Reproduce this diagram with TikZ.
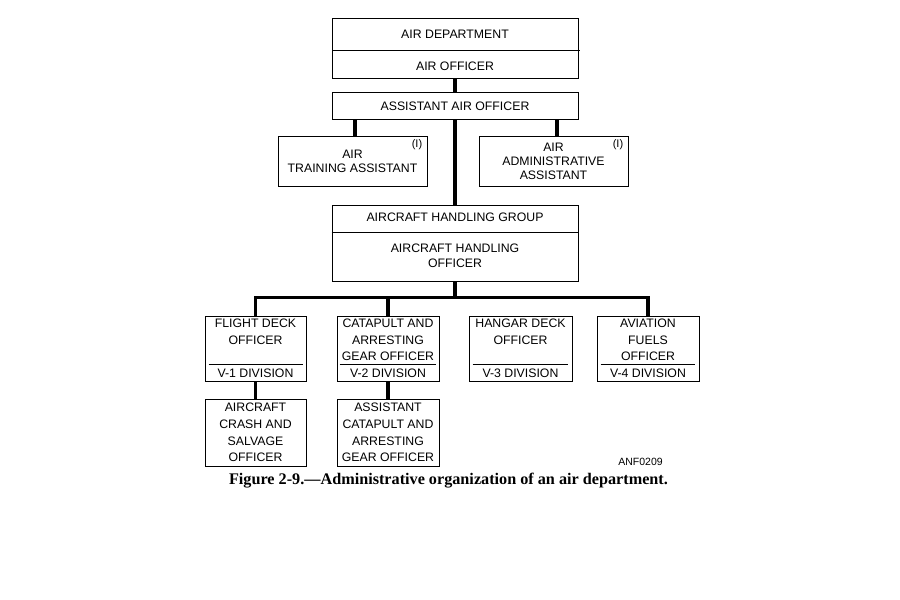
\documentclass[tikz,border=0pt]{standalone}
\usepackage{fontspec}
\setmainfont{Liberation Sans}
\newfontfamily\capfont{Liberation Serif}
\begin{document}
\begin{tikzpicture}[x=1pt,y=-1pt,
  box/.style={draw, line width=0.9pt, inner sep=0pt, minimum width=#1},
  conn/.style={line width=3.4pt},
  sep/.style={line width=0.9pt},
  txt/.style={inner sep=0pt, align=center, font=\fontsize{12.3}{14}\selectfont},
  txtb/.style={inner sep=0pt, align=center, font=\fontsize{12.3}{16.6}\selectfont},
  note/.style={inner sep=0pt, font=\fontsize{11}{12}\selectfont}]
\useasboundingbox (0,0) rectangle (900,600);
% boxes
\node[box=246pt, minimum height=60pt] (dept) at (455,48) {};
\node[box=246pt, minimum height=27pt] (asst) at (455,105.5) {};
\node[box=149pt, minimum height=50pt] (train) at (352.5,161) {};
\node[box=149pt, minimum height=50pt] (admin) at (553.5,161) {};
\node[box=246pt, minimum height=76pt] (ahg) at (455,243) {};
\node[box=101pt, minimum height=65pt] (fd) at (255.5,348.5) {};
\node[box=102pt, minimum height=65pt] (cat) at (388,348.5) {};
\node[box=103pt, minimum height=65pt] (hang) at (520.5,348.5) {};
\node[box=102pt, minimum height=65pt] (fuel) at (648,348.5) {};
\node[box=101pt, minimum height=67pt] (crash) at (255.5,432.5) {};
\node[box=102pt, minimum height=67pt] (acat) at (388,432.5) {};
% dividers
\draw[sep] (332,50) -- (580,50);
\draw[sep] (ahg.west |- 0,232) -- (ahg.east |- 0,232);
\draw[sep] ([xshift=4pt]fd.west |- 0,364) -- ([xshift=-3pt]fd.east |- 0,364);
\draw[sep] ([xshift=3pt]cat.west |- 0,364) -- ([xshift=-3pt]cat.east |- 0,364);
\draw[sep] ([xshift=4pt]hang.west |- 0,364) -- ([xshift=-4pt]hang.east |- 0,364);
\draw[sep] ([xshift=4pt]fuel.west |- 0,364) -- ([xshift=-4pt]fuel.east |- 0,364);
% connectors
\draw[conn] (dept.south) -- (asst.north);
\draw[conn] ([xshift=2.5pt]train.north) -- ([xshift=2.5pt]train.north |- asst.south);
\draw[conn] ([xshift=3.5pt]admin.north) -- ([xshift=3.5pt]admin.north |- asst.south);
\draw[conn] (asst.south) -- (ahg.north);
\draw[conn] (ahg.south) -- ++(0,16) coordinate (bus);
\draw[conn] (fd.north) |- (bus) -| (fuel.north);
\draw[conn] (cat.north) -- (cat.north |- bus);
\draw[conn] (fd.south) -- (crash.north);
\draw[conn] (cat.south) -- (acat.north);
% texts
\node[txt] (t1) at (455,34) {AIR DEPARTMENT};
\node[txt] (t2) at (455,66) {AIR OFFICER};
\node[txt] (t3) at (455,106) {ASSISTANT AIR OFFICER};
\node[txt] (t4) at (352.5,161) {AIR\\TRAINING ASSISTANT};
\node[txt] (t5) at (553.5,161) {AIR\\ADMINISTRATIVE\\ASSISTANT};
\node[note] (n1) at (417,145) {(I)};
\node[note] (n2) at (618,145) {(I)};
\node[txt] (t6) at (455,217) {AIRCRAFT HANDLING GROUP};
\node[txt, font=\fontsize{12.3}{15}\selectfont] (t7) at (455,255.5) {AIRCRAFT HANDLING\\OFFICER};
\node[txtb] (t8) at (255.5,331.5) {FLIGHT DECK\\OFFICER};
\node[txtb] (t9) at (388,340) {CATAPULT AND\\ARRESTING\\GEAR OFFICER};
\node[txtb] (t10) at (520.5,331.5) {HANGAR DECK\\OFFICER};
\node[txtb] (t11) at (648,340) {AVIATION\\FUELS\\OFFICER};
\node[txt] (d1) at (255.5,373) {V-1 DIVISION};
\node[txt] (d2) at (388,373) {V-2 DIVISION};
\node[txt] (d3) at (520.5,373) {V-3 DIVISION};
\node[txt] (d4) at (648,373) {V-4 DIVISION};
\node[txtb] (t12) at (255.5,432.5) {AIRCRAFT\\CRASH AND\\SALVAGE\\OFFICER};
\node[txtb] (t13) at (388,432.5) {ASSISTANT\\CATAPULT AND\\ARRESTING\\GEAR OFFICER};
\node[note, font=\fontsize{10.5}{12}\selectfont] (anf) at (640.5,462) {ANF0209};
\node[inner sep=0pt, font=\capfont\bfseries\fontsize{16.2}{18}\selectfont] (cap) at (448.5,481) {Figure 2-9.—Administrative organization of an air department.};
\end{tikzpicture}
\end{document}
